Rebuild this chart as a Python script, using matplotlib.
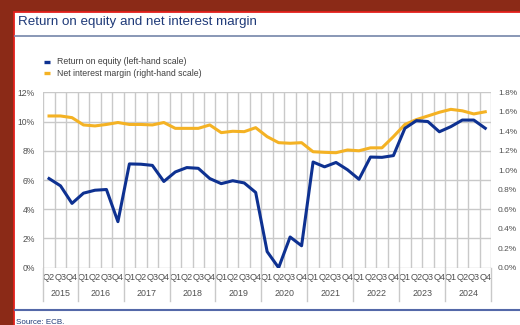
import matplotlib.pyplot as plt
import matplotlib.transforms as mtransforms
from matplotlib.patches import Rectangle
from matplotlib.lines import Line2D
import numpy as np

plt.rcParams['font.family'] = ['Liberation Sans', 'DejaVu Sans']

years = ['2015', '2016', '2017', '2018', '2019', '2020', '2021', '2022', '2023', '2024']
quarters = ['Q2', 'Q3', 'Q4'] + ['Q1', 'Q2', 'Q3', 'Q4'] * 9

# return on equity, % (left-hand scale)
roe = [6.1, 5.6, 4.4,
       5.1, 5.3, 5.35, 3.15,
       7.1, 7.08, 7.0, 5.9,
       6.55, 6.85, 6.8, 6.1,
       5.75, 5.95, 5.8, 5.15,
       1.1, 0.0, 2.1, 1.5,
       7.23, 6.9, 7.2, 6.7,
       6.05, 7.57, 7.55, 7.67,
       9.54, 10.06, 10.0, 9.3,
       9.65, 10.1, 10.1, 9.54]

# net interest margin, % (right-hand scale)
nim = [1.557, 1.557, 1.54,
       1.465, 1.455, 1.47, 1.49,
       1.47, 1.47, 1.465, 1.49,
       1.43, 1.43, 1.43, 1.465,
       1.386, 1.40, 1.396, 1.437,
       1.345, 1.283, 1.277, 1.283,
       1.19, 1.184, 1.18, 1.208,
       1.20, 1.23, 1.23, 1.345,
       1.47, 1.52, 1.557, 1.595,
       1.625, 1.61, 1.578, 1.60]

BLUE = '#0E3191'
YELLOW = '#F4B224'
GRID = '#C9C9C9'
TXT = '#505050'
W, H = 520, 325


def fx(x):
    return x / W


def fy(y):
    return 1 - y / H


fig = plt.figure(figsize=(W / 100, H / 100), dpi=100, facecolor='#8B2A17')

# white panel with thin red border
fig.add_artist(Rectangle((fx(14), -0.02), 1.0, fy(12) + 0.02, transform=fig.transFigure,
                         facecolor='white', edgecolor='#E3201B', linewidth=1.3, zorder=-5))

fig.text(fx(18), fy(22), 'Return on equity and net interest margin', fontsize=9.6,
         color='#1F3A78', va='center', ha='left')
fig.add_artist(Line2D([fx(15), 1], [fy(36), fy(36)], transform=fig.transFigure,
                      color='#7F8FB0', linewidth=1.3))

# legend
for yy, col, lab in [(62, BLUE, 'Return on equity (left-hand scale)'),
                     (73, YELLOW, 'Net interest margin (right-hand scale)')]:
    fig.add_artist(Line2D([fx(44), fx(50)], [fy(yy), fy(yy)], transform=fig.transFigure,
                          color=col, linewidth=2.4, solid_capstyle='butt'))
    fig.text(fx(57), fy(yy), lab, fontsize=6.3, color='#404040', va='center', ha='left')

# ax: grid and left scale; ax2: right scale (NIM); ax3: ROE line drawn on top
ax = fig.add_axes([fx(43.3), fy(267.7), (491 - 43.3) / W, (267.7 - 92.3) / H])
ax2 = ax.twinx()
ax3 = ax.twinx()
ax.set_zorder(1)
ax2.set_zorder(2)
ax3.set_zorder(3)
for a in (ax2, ax3):
    a.patch.set_visible(False)

x = np.arange(len(roe))
ax.set_xlim(-0.5, len(roe) - 0.5)
ax.set_ylim(0, 12)
ax3.set_ylim(0, 12)
ax2.set_ylim(0, 1.8)

ax.set_yticks(np.arange(0, 13, 2))
ax.set_yticklabels([f'{v}%' for v in range(0, 13, 2)])
ax2.set_yticks(np.arange(0, 1.81, 0.2))
ax2.set_yticklabels([f'{v:.1f}%' for v in np.arange(0, 1.81, 0.2)])
ax3.set_yticks([])

ax.set_xticks(x)
ax.set_xticklabels(quarters)
ax.set_xticks(np.arange(-0.5, len(roe), 1), minor=True)
ax.grid(True, which='minor', axis='x', color=GRID, linewidth=1)
ax.grid(True, which='major', axis='y', color=GRID, linewidth=1)

ax.tick_params(axis='x', which='both', length=0, pad=3.5, labelsize=6.6, labelcolor=TXT)
ax.tick_params(axis='y', length=0, pad=6, labelsize=6.2, labelcolor=TXT)
ax2.tick_params(axis='y', length=0, pad=5, labelsize=6.0, labelcolor=TXT)
for a in (ax, ax2, ax3):
    for s in a.spines.values():
        s.set_visible(False)

ax2.plot(x, nim, color=YELLOW, linewidth=2.2)
ax3.plot(x, roe, color=BLUE, linewidth=2.2)

# year labels and separators below the quarter labels
trans = mtransforms.blended_transform_factory(ax.transData, ax.transAxes)
starts = [-0.5] + [2.5 + 4 * i for i in range(10)]
for i, yr in enumerate(years):
    mid = (starts[i] + starts[i + 1]) / 2
    ax.text(mid, -0.145, yr, transform=trans, fontsize=6.4, color=TXT, ha='center', va='center')
for s in starts:
    ax.plot([s, s], [0, -0.19], transform=trans, color=GRID, linewidth=1, clip_on=False)

fig.add_artist(Line2D([fx(15), 1], [fy(310), fy(310)], transform=fig.transFigure,
                      color='#5468A8', linewidth=1.5))
fig.text(fx(16), fy(322), 'Source: ECB.', fontsize=5.8, color='#1F3A78', va='center', ha='left')

fig.savefig('out.png', dpi=100, facecolor=fig.get_facecolor())
